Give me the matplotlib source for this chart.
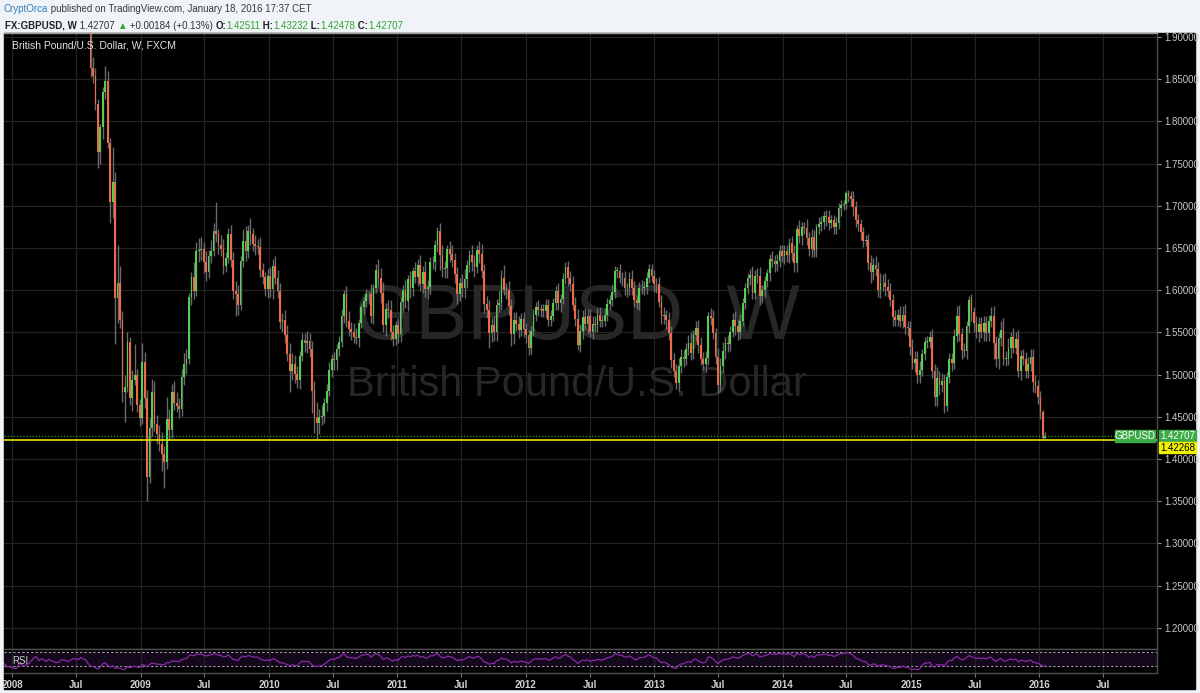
import numpy as np
import pandas as pd
import matplotlib
matplotlib.use('Agg')
import matplotlib.pyplot as plt
import matplotlib.dates as mdates
from matplotlib.patches import Rectangle
from matplotlib.ticker import FuncFormatter

plt.rcParams['font.family'] = ['Liberation Sans', 'DejaVu Sans']

# GBPUSD weekly closes (FXCM), one list per year, weeks start on Monday
first_week = '2007-10-01'
close_2007 = [2.0410, 2.0370, 2.0480, 2.0650, 2.0890, 2.0950, 2.0540, 2.0620, 2.0570, 2.0230,
              2.0180, 1.9830, 1.9850]
close_2008 = [1.9730, 1.9580, 1.9560, 1.9860, 1.9690, 1.9470, 1.9570, 1.9650, 1.9870, 2.0160,
              2.0300, 1.9850, 2.0040, 1.9990, 1.9710, 1.9970, 1.9760, 1.9710, 1.9460, 1.9520,
              1.9770, 1.9780, 1.9720, 1.9560, 1.9750, 1.9930, 1.9860, 1.9780, 2.0020, 1.9880,
              1.9790, 1.9250, 1.8630, 1.8540, 1.8210, 1.7640, 1.7930, 1.8350, 1.8480, 1.7740,
              1.7040, 1.7280, 1.5910, 1.6090, 1.5650, 1.4790, 1.4850, 1.5390, 1.4720, 1.4940,
              1.4990, 1.4640, 1.4490]
close_2009 = [1.5150, 1.4720, 1.3790, 1.4370, 1.4790, 1.4410, 1.4300, 1.4180, 1.4060, 1.3960,
              1.4470, 1.4340, 1.4790, 1.4660, 1.4630, 1.4590, 1.4970, 1.5130, 1.5190, 1.5920,
              1.6160, 1.5990, 1.6460, 1.6480, 1.6490, 1.6330, 1.6210, 1.6400, 1.6470, 1.6700,
              1.6660, 1.6530, 1.6490, 1.6290, 1.6380, 1.6660, 1.6360, 1.5990, 1.5950, 1.5830,
              1.6350, 1.6580, 1.6460, 1.6700, 1.6660, 1.6550, 1.6520, 1.6510, 1.6240, 1.6160,
              1.6010, 1.6170]
close_2010 = [1.6010, 1.6290, 1.6150, 1.5990, 1.5620, 1.5650, 1.5470, 1.5240, 1.5040, 1.5130,
              1.5010, 1.4940, 1.5220, 1.5410, 1.5370, 1.5400, 1.5300, 1.4810, 1.4480, 1.4430,
              1.4500, 1.4510, 1.4660, 1.4810, 1.5060, 1.5180, 1.5170, 1.5300, 1.5390, 1.5690,
              1.5950, 1.5630, 1.5540, 1.5500, 1.5450, 1.5430, 1.5610, 1.5800, 1.5870, 1.5950,
              1.5950, 1.5700, 1.6030, 1.6240, 1.6150, 1.5970, 1.5590, 1.5780, 1.5760, 1.5510,
              1.5420, 1.5590]
close_2011 = [1.5480, 1.5860, 1.6000, 1.5870, 1.6130, 1.6020, 1.6230, 1.6160, 1.6300, 1.6070,
              1.6220, 1.6010, 1.6040, 1.6330, 1.6330, 1.6530, 1.6700, 1.6420, 1.6250, 1.6260,
              1.6490, 1.6430, 1.6360, 1.6190, 1.5950, 1.6080, 1.6020, 1.6130, 1.6300, 1.6420,
              1.6330, 1.6280, 1.6480, 1.6430, 1.6230, 1.5840, 1.5770, 1.5490, 1.5590, 1.5510,
              1.5830, 1.5850, 1.6140, 1.6000, 1.6000, 1.5810, 1.5480, 1.5650, 1.5600, 1.5530,
              1.5660, 1.5540]
close_2012 = [1.5470, 1.5320, 1.5520, 1.5710, 1.5800, 1.5770, 1.5780, 1.5750, 1.5830, 1.5650,
              1.5700, 1.5850, 1.5990, 1.5850, 1.5900, 1.6130, 1.6270, 1.6150, 1.6070, 1.5830,
              1.5660, 1.5350, 1.5520, 1.5680, 1.5600, 1.5700, 1.5500, 1.5600, 1.5590, 1.5710,
              1.5640, 1.5640, 1.5710, 1.5840, 1.5880, 1.5980, 1.6230, 1.6230, 1.6150, 1.6140,
              1.6020, 1.6020, 1.6130, 1.6020, 1.5880, 1.5850, 1.6030, 1.6020, 1.6040, 1.6150,
              1.6250, 1.6170, 1.6070]
close_2013 = [1.6070, 1.5860, 1.5690, 1.5710, 1.5650, 1.5490, 1.5170, 1.5040, 1.4900, 1.5100,
              1.5210, 1.5190, 1.5300, 1.5380, 1.5250, 1.5470, 1.5550, 1.5350, 1.5190, 1.5130,
              1.5200, 1.5690, 1.5670, 1.5490, 1.5210, 1.4880, 1.5100, 1.5280, 1.5370, 1.5360,
              1.5510, 1.5650, 1.5570, 1.5500, 1.5640, 1.5850, 1.6030, 1.6140, 1.6180, 1.5970,
              1.6170, 1.6170, 1.5930, 1.6000, 1.6110, 1.6200, 1.6370, 1.6350, 1.6310, 1.6340,
              1.6470, 1.6410]
close_2014 = [1.6460, 1.6420, 1.6560, 1.6440, 1.6320, 1.6730, 1.6640, 1.6750, 1.6740, 1.6620,
              1.6490, 1.6630, 1.6480, 1.6750, 1.6790, 1.6810, 1.6880, 1.6870, 1.6800, 1.6830,
              1.6750, 1.6800, 1.6970, 1.7010, 1.7020, 1.7150, 1.7110, 1.7080, 1.6980, 1.6830,
              1.6780, 1.6690, 1.6580, 1.6590, 1.6320, 1.6220, 1.6300, 1.6250, 1.6000, 1.6080,
              1.6090, 1.6040, 1.5990, 1.5880, 1.5680, 1.5650, 1.5710, 1.5630, 1.5710, 1.5560,
              1.5550, 1.5330]
close_2015 = [1.5140, 1.5180, 1.4990, 1.5060, 1.5240, 1.5390, 1.5390, 1.5440, 1.5040, 1.4730,
              1.4960, 1.4880, 1.4920, 1.4630, 1.4970, 1.5180, 1.5140, 1.5460, 1.5700, 1.5480,
              1.5290, 1.5280, 1.5570, 1.5880, 1.5740, 1.5610, 1.5510, 1.5600, 1.5510, 1.5610,
              1.5490, 1.5640, 1.5700, 1.5380, 1.5180, 1.5430, 1.5530, 1.5190, 1.5190, 1.5320,
              1.5450, 1.5320, 1.5420, 1.5040, 1.5220, 1.5190, 1.5040, 1.5120, 1.5210, 1.4910,
              1.4860, 1.4740]
close_2016 = [1.4560, 1.42511, 1.42707]

# wick lengths in pips: above the body (up) and below the body (dn)
wick_up_2007 = [80, 90, 100, 90, 110, 100, 150, 90, 100, 120, 90, 110, 70]
wick_dn_2007 = [90, 100, 80, 90, 80, 100, 120, 130, 90, 110, 100, 120, 80]
wick_up_2008 = [50, 60, 70, 80, 70, 60, 50, 60, 70, 90,
                80, 120, 70, 60, 70, 80, 60, 50, 50, 60,
                60, 80, 60, 60, 50, 70, 60, 60, 70, 60,
                80, 40, 80, 130, 90, 60, 40, 60, 180, 120,
                60, 420, 120, 450, 200, 100, 150, 120, 60, 120,
                370, 80, 70]
wick_dn_2008 = [60, 70, 60, 50, 80, 60, 70, 60, 60, 70,
                80, 90, 80, 60, 70, 60, 80, 60, 70, 50,
                60, 60, 70, 60, 60, 60, 80, 60, 50, 60,
                60, 60, 100, 90, 80, 190, 150, 140, 80, 60,
                240, 180, 550, 300, 100, 120, 350, 60, 80, 150,
                60, 80, 100]
wick_up_2009 = [220, 120, 100, 120, 160, 130, 110, 100, 140, 90,
                260, 120, 100, 130, 130, 90, 100, 120, 110, 50,
                60, 170, 110, 140, 140, 80, 140, 80, 120, 100,
                340, 60, 120, 120, 70, 80, 110, 90, 120, 110,
                60, 140, 180, 70, 150, 80, 100, 90, 120, 80,
                60, 80]
wick_dn_2009 = [80, 120, 290, 80, 100, 80, 120, 90, 200, 300,
                80, 110, 90, 80, 70, 110, 80, 90, 120, 60,
                90, 100, 60, 130, 120, 130, 100, 60, 80, 60,
                90, 100, 90, 100, 80, 60, 80, 100, 250, 120,
                60, 70, 110, 80, 130, 80, 100, 80, 80, 90,
                80, 100]
wick_up_2010 = [100, 80, 110, 90, 100, 80, 110, 120, 130, 120,
                100, 90, 60, 80, 80, 120, 90, 100, 120, 200,
                90, 130, 60, 80, 90, 60, 90, 60, 70, 90,
                50, 100, 120, 80, 110, 100, 50, 40, 50, 60,
                40, 120, 40, 70, 130, 110, 130, 70, 100, 120,
                80, 50]
wick_dn_2010 = [90, 110, 80, 80, 80, 110, 100, 80, 250, 100,
                110, 100, 110, 60, 100, 110, 90, 260, 170, 200,
                130, 100, 80, 90, 60, 90, 120, 120, 80, 60,
                80, 70, 80, 90, 80, 70, 100, 60, 80, 70,
                110, 90, 100, 60, 100, 120, 80, 130, 90, 100,
                80, 70]
wick_up_2011 = [80, 60, 60, 120, 50, 100, 50, 100, 70, 120,
                70, 120, 80, 60, 80, 60, 46, 100, 110, 90,
                40, 90, 100, 80, 90, 60, 110, 120, 60, 60,
                120, 90, 60, 100, 120, 80, 90, 110, 80, 100,
                60, 140, 100, 160, 90, 110, 90, 90, 90, 100,
                70, 80]
wick_dn_2011 = [100, 90, 120, 80, 120, 110, 90, 70, 110, 80,
                100, 90, 110, 90, 80, 100, 80, 180, 90, 110,
                120, 100, 80, 100, 110, 80, 100, 110, 100, 90,
                100, 120, 80, 110, 80, 110, 100, 170, 100, 110,
                110, 90, 90, 60, 110, 100, 140, 120, 80, 100,
                70, 90]
wick_up_2012 = [70, 60, 60, 70, 60, 80, 60, 60, 60, 70,
                60, 60, 60, 90, 60, 70, 60, 70, 80, 100,
                90, 120, 80, 90, 110, 80, 80, 90, 90, 80,
                90, 70, 80, 70, 60, 90, 60, 50, 80, 70,
                90, 60, 80, 110, 90, 60, 70, 90, 70, 70,
                60, 60, 70]
wick_dn_2012 = [90, 85, 80, 60, 80, 80, 90, 70, 80, 80,
                80, 70, 90, 80, 110, 60, 60, 100, 80, 60,
                80, 60, 80, 100, 70, 120, 60, 80, 90, 80,
                80, 80, 60, 70, 80, 70, 70, 80, 70, 90,
                80, 100, 80, 80, 80, 70, 80, 70, 80, 90,
                70, 70, 90]
wick_up_2013 = [80, 90, 80, 90, 60, 90, 80, 90, 80, 100,
                90, 80, 70, 90, 110, 60, 80, 100, 90, 80,
                80, 50, 100, 100, 60, 110, 100, 110, 80, 100,
                60, 80, 100, 90, 80, 60, 50, 60, 70, 110,
                70, 90, 100, 60, 60, 50, 60, 100, 70, 90,
                70, 70]
wick_dn_2013 = [100, 60, 90, 90, 110, 80, 90, 70, 70, 100,
                80, 100, 80, 70, 80, 70, 70, 100, 80, 70,
                100, 90, 80, 70, 80, 100, 70, 80, 90, 90,
                80, 60, 100, 90, 80, 70, 70, 80, 80, 70,
                70, 80, 110, 80, 80, 70, 90, 70, 100, 80,
                70, 80]
wick_up_2014 = [70, 80, 60, 80, 100, 40, 100, 60, 60, 100,
                70, 90, 80, 30, 80, 70, 60, 70, 80, 60,
                60, 70, 60, 60, 50, 30, 40, 60, 90, 80,
                70, 60, 60, 60, 80, 100, 80, 110, 80, 120,
                100, 110, 90, 90, 80, 80, 70, 100, 100, 130,
                80, 80]
wick_dn_2014 = [100, 90, 100, 90, 100, 100, 80, 110, 70, 80,
                80, 100, 90, 90, 80, 90, 80, 110, 90, 60,
                80, 90, 80, 90, 60, 60, 70, 80, 100, 80,
                80, 90, 70, 60, 80, 140, 100, 80, 80, 90,
                90, 110, 70, 70, 110, 70, 80, 70, 80, 80,
                90, 100]
wick_up_2015 = [90, 100, 100, 100, 60, 60, 70, 80, 100, 80,
                130, 80, 100, 90, 60, 80, 70, 80, 110, 120,
                70, 80, 70, 50, 80, 60, 80, 80, 80, 90,
                90, 70, 100, 110, 80, 60, 100, 140, 90, 110,
                60, 100, 90, 110, 70, 80, 80, 90, 90, 90,
                90, 80]
wick_dn_2015 = [70, 110, 90, 90, 80, 70, 80, 80, 80, 100,
                100, 120, 90, 80, 65, 70, 100, 70, 70, 80,
                110, 70, 100, 80, 100, 100, 80, 120, 80, 110,
                90, 90, 80, 190, 90, 110, 90, 80, 90, 80,
                120, 70, 80, 70, 100, 80, 80, 80, 80, 120,
                80, 90]
wick_up_2016 = [70, 20, 53]
wick_dn_2016 = [90, 20, 3]

support_level = 1.42268
last_price = 1.42707
price_ticks = [1.20, 1.25, 1.30, 1.35, 1.40, 1.45, 1.50, 1.55, 1.60, 1.65, 1.70, 1.75, 1.80, 1.85, 1.90]

close = np.array(close_2007 + close_2008 + close_2009 + close_2010 + close_2011 + close_2012
                 + close_2013 + close_2014 + close_2015 + close_2016)
wick_up = np.array(wick_up_2007 + wick_up_2008 + wick_up_2009 + wick_up_2010 + wick_up_2011
                   + wick_up_2012 + wick_up_2013 + wick_up_2014 + wick_up_2015 + wick_up_2016) * 1e-4
wick_dn = np.array(wick_dn_2007 + wick_dn_2008 + wick_dn_2009 + wick_dn_2010 + wick_dn_2011
                   + wick_dn_2012 + wick_dn_2013 + wick_dn_2014 + wick_dn_2015 + wick_dn_2016) * 1e-4

weeks = pd.date_range(first_week, periods=len(close), freq='7D')
xw = mdates.date2num(weeks.to_pydatetime())
opn = np.r_[close[0], close[:-1]]
top = np.maximum(opn, close)
bot = np.minimum(opn, close)
high = top + wick_up
low = bot - wick_dn
up = close >= opn

# RSI 14 (Wilder)
delta = np.diff(close, prepend=close[0])
gain = pd.Series(np.clip(delta, 0, None)).ewm(alpha=1/14, adjust=False, min_periods=10).mean()
loss = pd.Series(np.clip(-delta, 0, None)).ewm(alpha=1/14, adjust=False, min_periods=10).mean()
rsi = (100 - 100 / (1 + gain / loss)).values

W, H = 1200, 693
def fx(px):
    return px / W
def fy(py):
    return 1 - py / H

fig = plt.figure(figsize=(12, 6.93), dpi=100)
fig.patch.set_facecolor('#f0f3f7')
fig.patches.append(Rectangle((fx(4), fy(689)), fx(1195) - fx(4), fy(33) - fy(689),
                             transform=fig.transFigure, color='black', zorder=-5))

ax = fig.add_axes([fx(4), fy(649), fx(1157) - fx(4), fy(33) - fy(649)])
rax = fig.add_axes([fx(4), fy(673), fx(1157) - fx(4), fy(649) - fy(673)], sharex=ax)

# x scale: first visible bar (2008-08-11) sits at px 90.5, ~0.3516 px per day
anchor = mdates.date2num(pd.Timestamp('2008-08-11').to_pydatetime())
ppd = 0.35155
ax.set_xlim(anchor - (90.5 - 4) / ppd, anchor + (1157 - 90.5) / ppd)
ax.set_ylim(1.1749, 1.9047)

for a in (ax, rax):
    a.set_facecolor('black')
    for s in a.spines.values():
        s.set_color('#4d4d4d')
        s.set_linewidth(1)
    a.spines['left'].set_visible(False)
    a.grid(True, color='#232323', lw=0.9)
    a.set_axisbelow(True)
    a.xaxis.set_major_locator(mdates.MonthLocator(bymonth=[1, 7]))
ax.spines['top'].set_color('#9a9a9a')

# watermark
ax.text(0.497, 0.537, 'GBPUSD, W', transform=ax.transAxes, ha='center', va='center',
        fontsize=56, color='#272727', zorder=0.6)
ax.text(0.497, 0.429, 'British Pound/U.S. Dollar', transform=ax.transAxes, ha='center',
        va='center', fontsize=30, color='#272727', zorder=0.6)

# candles
ax.vlines(xw, low, high, color='#6a6a6a', lw=1, zorder=2)
ax.bar(xw, np.maximum(top - bot, 0.0009), bottom=bot, width=5,
       color=np.where(up, '#52d04f', '#ef6a45'), linewidth=0, zorder=3)

ax.axhline(support_level, color='#e4e400', lw=1.2, zorder=4)
ax.axhline(last_price, color='#2f9e3a', lw=0.9, ls=(0, (1, 1.5)), zorder=4)

ax.yaxis.tick_right()
ax.set_yticks(price_ticks)
ax.yaxis.set_major_formatter(FuncFormatter(lambda v, p: f'{v:.5f}'))
ax.tick_params(axis='y', colors='#8a8a8a', labelcolor='#c8c8c8', labelsize=7, length=3, pad=2)
ax.tick_params(axis='x', length=0, labelbottom=False)

ax.text(8 / 1153, (649 - 45) / 616, 'British Pound/U.S. Dollar, W, FXCM', transform=ax.transAxes,
        ha='left', va='center', fontsize=7.5, color='#e2e2e2', zorder=6)

# price tags: last price (green) and the drawn support level (yellow) stacked below it
yt = ax.get_yaxis_transform()
tag_h = 0.0136
for price, col, txt_col, x0, w, label in [
        (last_price, '#3daa48', 'white', 1.0015, 0.0325, f'{last_price:.5f}'),
        (last_price, '#3daa48', 'white', (1115 - 4) / 1153, 40 / 1153, 'GBPUSD'),
        (last_price - tag_h, '#f2f200', 'black', 1.0015, 0.0325, f'{support_level:.5f}')]:
    ax.add_patch(Rectangle((x0, price - tag_h / 2), w, tag_h, transform=yt, color=col,
                           clip_on=False, zorder=7))
    ax.text(x0 + w / 2, price, label, transform=yt, ha='center', va='center', fontsize=7,
            color=txt_col, clip_on=False, zorder=8)

# RSI pane
rax.set_ylim(10, 78.6)
rax.axhspan(30, 70, color='#13081c', zorder=0.5)
for lvl in (30, 70):
    rax.axhline(lvl, color='#a0a0a0', lw=0.8, ls=(0, (2, 2)), zorder=1)
rax.plot(xw, rsi, color='#8a2aa6', lw=0.9, zorder=2)
rax.set_yticks([])
rax.text(8 / 1153, 0.5, 'RSI', transform=rax.transAxes, ha='left', va='center',
         fontsize=7, color='#cfcfcf', zorder=3)

def date_label(v, p):
    d = mdates.num2date(v)
    return str(d.year) if d.month == 1 else 'Jul'

rax.xaxis.set_major_formatter(FuncFormatter(date_label))
rax.tick_params(axis='x', colors='#777777', labelcolor='#d2d2d2', labelsize=7, length=3, pad=2)
for lab in rax.get_xticklabels():
    lab.set_fontweight('bold')

# header
fig.canvas.draw()
renderer = fig.canvas.get_renderer()

def write_row(pieces, x0, y0):
    x = x0
    for txt, col, wt in pieces:
        t = fig.text(x, y0, txt, color=col, fontweight=wt, fontsize=7, ha='left', va='center')
        x += t.get_window_extent(renderer).width / W

green = '#2fa52f'
write_row([('CryptOrca', '#2f7fc1', 'normal'),
           (' published on TradingView.com, January 18, 2016 17:37 CET', '#3a3a3a', 'normal')],
          fx(4), fy(9))
write_row([('FX:GBPUSD, W', '#222222', 'bold'), (' 1.42707 ', '#333333', 'normal'),
           ('▲', green, 'normal'), (' +0.00184 (+0.13%) ', '#333333', 'normal'),
           ('O:', '#222222', 'bold'), ('1.42511', green, 'normal'),
           (' H:', '#222222', 'bold'), ('1.43232', green, 'normal'),
           (' L:', '#222222', 'bold'), ('1.42478', green, 'normal'),
           (' C:', '#222222', 'bold'), ('1.42707', green, 'normal')],
          fx(5), fy(26))

fig.savefig('out.png', dpi=100, facecolor=fig.get_facecolor())
